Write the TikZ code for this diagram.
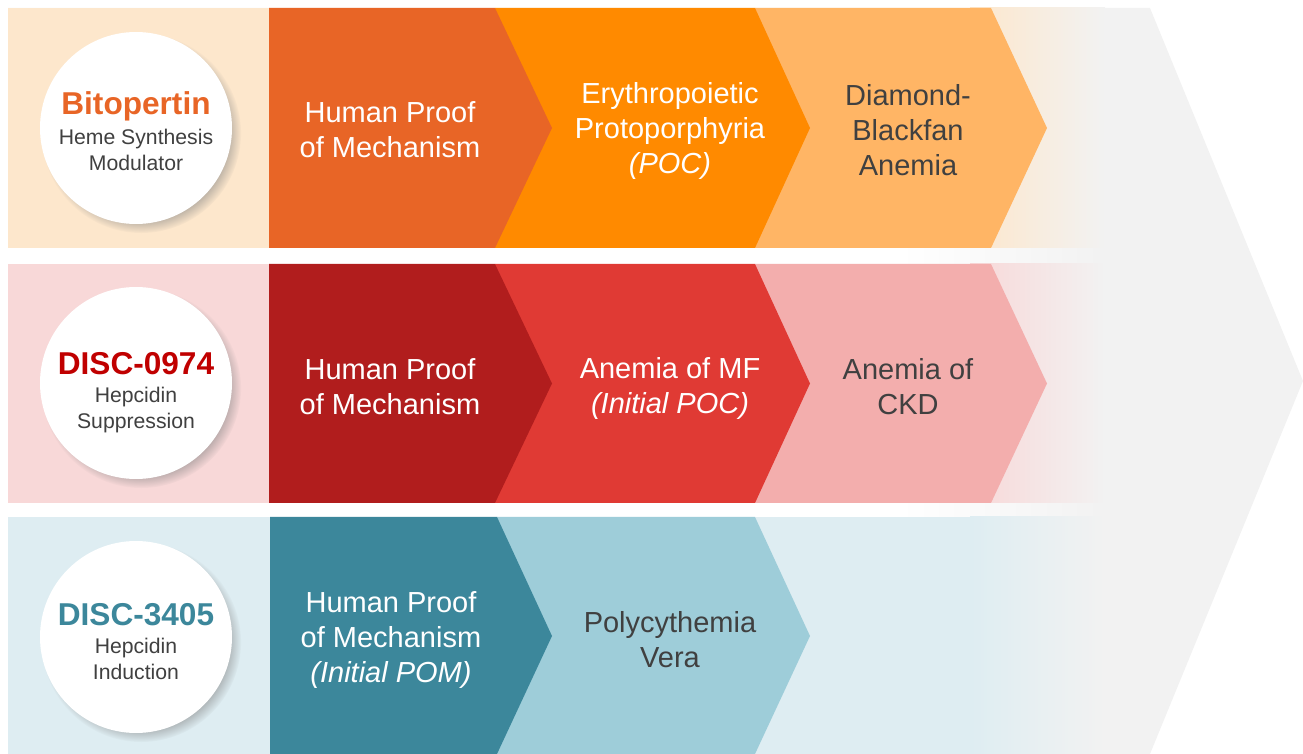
\documentclass[tikz,border=0pt]{standalone}
\usepackage{fontspec}
\setmainfont{Liberation Sans}
\usepackage{tikz}
\usetikzlibrary{shadows}
\definecolor{lgray}{HTML}{F2F2F2}
\definecolor{txtgray}{HTML}{404040}
\definecolor{orgA}{HTML}{E86526}
\definecolor{orgB}{HTML}{FF8A00}
\definecolor{orgC}{HTML}{FFB565}
\definecolor{orgbg}{HTML}{FDE7CC}
\definecolor{redA}{HTML}{B11D1D}
\definecolor{redB}{HTML}{E03A34}
\definecolor{redC}{HTML}{F3AEAD}
\definecolor{redbg}{HTML}{F8D8D8}
\definecolor{redname}{HTML}{C00000}
\definecolor{tealA}{HTML}{3C879B}
\definecolor{tealB}{HTML}{9ECDD9}
\definecolor{tealbg}{HTML}{DEEDF2}

\begin{document}
\begin{tikzpicture}[x=0.5pt,y=0.5pt]
\tikzstyle{every node}+=[inner sep=0pt]
\tikzstyle{steptext}=[align=center,font=\fontsize{14.5}{17.5}\selectfont]
\tikzstyle{drugname}=[font=\fontsize{15.8}{18}\selectfont\bfseries]
\tikzstyle{drugsub}=[align=center,text=txtgray,font=\fontsize{10.6}{13}\selectfont]
\tikzstyle{badge}=[circle,fill=white,minimum size=96pt,circular drop shadow={shadow xshift=2.5pt,shadow yshift=-2.5pt,shadow scale=1.04,opacity=0.6}]
\useasboundingbox (0,0) rectangle (1303,-754);
\fill [lgray] (8,-8) -- (1150,-8) -- (1303,-381) -- (1150,-754) -- (8,-754) -- cycle;
\fill [white] (0,-248) rectangle (900,-264);
\shade [left color=white,right color=lgray] (900,-248) rectangle (1100,-264);
\fill [white] (0,-503) rectangle (900,-517);
\shade [left color=white,right color=lgray] (900,-503) rectangle (1100,-517);
\fill [orgbg] (8,-8) rectangle (970,-248);
\shade [left color=orgbg,right color=lgray] (970,-8) rectangle (1105,-248);
\fill [redbg] (8,-264) rectangle (970,-503);
\shade [left color=redbg,right color=lgray] (970,-264) rectangle (1105,-503);
\fill [tealbg] (8,-517) rectangle (970,-754);
\shade [left color=tealbg,right color=lgray] (970,-517) rectangle (1105,-754);
\fill [orgC] (755,-8) -- (991,-8) -- (1047,-128) -- (991,-248) -- (755,-248) -- cycle;
\fill [orgB] (495,-8) -- (755,-8) -- (810,-128) -- (755,-248) -- (495,-248) -- cycle;
\fill [orgA] (269,-8) -- (495,-8) -- (552,-128) -- (495,-248) -- (269,-248) -- cycle;
\fill [redC] (755,-264) -- (991,-264) -- (1047,-383.5) -- (991,-503) -- (755,-503) -- cycle;
\fill [redB] (495,-264) -- (755,-264) -- (810,-383.5) -- (755,-503) -- (495,-503) -- cycle;
\fill [redA] (269,-264) -- (495,-264) -- (552,-383.5) -- (495,-503) -- (269,-503) -- cycle;
\fill [tealB] (497,-517) -- (755,-517) -- (810,-636) -- (755,-754) -- (497,-754) -- cycle;
\fill [tealA] (270,-517) -- (497,-517) -- (552,-636) -- (497,-754) -- (270,-754) -- cycle;
\node [badge] (bito) at (136,-128) {};
\node [badge] (disc0974) at (136,-383) {};
\node [badge] (disc3405) at (136,-637) {};
\node [drugname,text=orgA] (bitoname) at (136,-106) {Bitopertin};
\node [drugsub] (bitosub) at (136,-150) {Heme Synthesis\\Modulator};
\node [drugname,text=redname] (supname) at (136,-364) {DISC-0974};
\node [drugsub] (supsub) at (136,-410) {Hepcidin\\Suppression};
\node [drugname,text=tealA] (indname) at (136,-615) {DISC-3405};
\node [drugsub] (indsub) at (136,-659) {Hepcidin\\Induction};
\node [steptext,text=white] (bitopom) at (390,-130) {Human Proof\\of Mechanism};
\node [steptext,text=white] (bitoepp) at (670,-131) {Erythropoietic\\Protoporphyria\\\textit{(POC)}};
\node [steptext,text=txtgray] (bitodba) at (908,-130) {Diamond-\\Blackfan\\Anemia};
\node [steptext,text=white] (suppom) at (390,-387) {Human Proof\\of Mechanism};
\node [steptext,text=white] (supmf) at (670,-388) {Anemia of MF\\\textit{(Initial POC)}};
\node [steptext,text=txtgray] (supckd) at (908,-387) {Anemia of\\CKD};
\node [steptext,text=white] (indpom) at (391,-640) {Human Proof\\of Mechanism\\\textit{(Initial POM)}};
\node [steptext,text=txtgray] (indpv) at (670,-640) {Polycythemia\\Vera};
\end{tikzpicture}
\end{document}
